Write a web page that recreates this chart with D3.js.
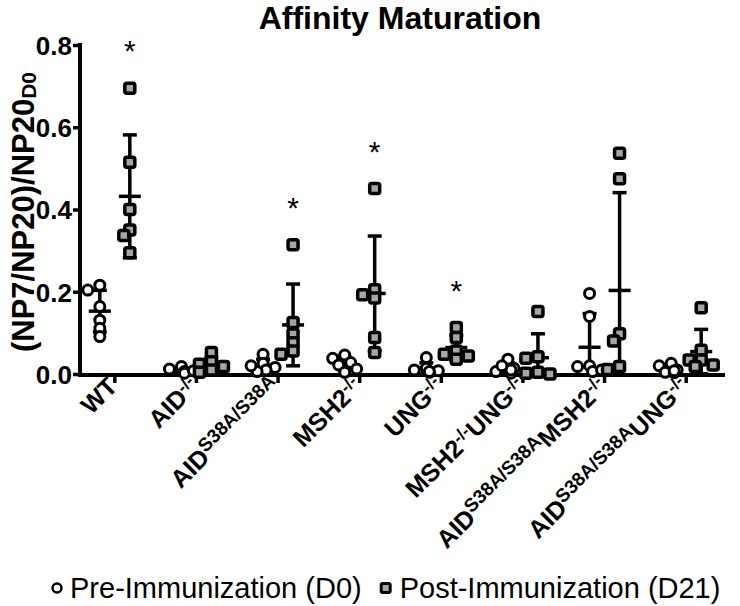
<!DOCTYPE html>
<html><head><meta charset="utf-8">
<script src="https://cdn.jsdelivr.net/npm/d3@7"></script>
<style>
body{margin:0;background:#fff}
svg text{font-family:"Liberation Sans",Arial,Helvetica,sans-serif}
</style>
</head><body>
<svg id="c" width="740" height="606"></svg>
<script>
// ---------- data ----------
const categories = ["WT","AID-/-","AIDS38A/S38A","MSH2-/-","UNG-/-","MSH2-/-UNG-/-","AIDS38A/S38AMSH2-/-","AIDS38A/S38AUNG-/-"];
const labelParts = [
  [["WT",0]],
  [["AID",0],["-/-",1]],
  [["AID",0],["S38A/S38A",1]],
  [["MSH2",0],["-/-",1]],
  [["UNG",0],["-/-",1]],
  [["MSH2",0],["-/-",1],["UNG",0],["-/-",1]],
  [["AID",0],["S38A/S38A",1],["MSH2",0],["-/-",1]],
  [["AID",0],["S38A/S38A",1],["UNG",0],["-/-",1]]
];
const preD0 = [
  [0.216,0.204,0.164,0.131,0.111,0.091],
  [0.018,0.012,0.006,0.004,0.002,0.008],
  [0.048,0.026,0.016,0.010,0.006,0.020],
  [0.046,0.038,0.028,0.022,0.004,0.012],
  [0.040,0.014,0.008,0.004,0.010,0.006],
  [0.036,0.014,0.002,0.010,0.006,0.020],
  [0.196,0.140,0.020,0.018,0.006,0.010],
  [0.020,0.026,0.004,0.010,0.003,0.008]
];
const postD21 = [
  [0.695,0.515,0.400,0.350,0.337,0.295],
  [0.052,0.030,0.024,0.010,0.004,0.018],
  [0.314,0.125,0.097,0.076,0.056,0.048],
  [0.451,0.205,0.193,0.185,0.089,0.052],
  [0.113,0.089,0.056,0.036,0.048,0.044],
  [0.152,0.042,0.038,0.004,0.000,0.002],
  [0.537,0.475,0.098,0.080,0.011,0.018],
  [0.161,0.058,0.034,0.034,0.018,0.022]
];
const significant = [true,false,true,true,true,false,false,false];
const yTicks = [0,0.2,0.4,0.6,0.8];
const title = "Affinity Maturation";
const legendLabels = ["Pre-Immunization (D0)","Post-Immunization (D21)"];

// ---------- layout ----------
const svg = d3.select("#c");
const FONT = '"Liberation Sans",Arial,sans-serif';
const x = d3.scaleBand().domain(categories).range([74, 727]);
const y = d3.scaleLinear().domain([0, 0.8]).range([374, 45]);
const cx = c => x(c) + x.bandwidth()/2;
const preOff = -15, postOff = 15;

// title
svg.append("text").attr("x", 400).attr("y", 29).attr("text-anchor","middle")
  .attr("font-size", 32).attr("font-weight","bold").text(title);

// y axis
const yAxis = svg.append("g").attr("transform","translate(80,0)")
  .call(d3.axisLeft(y).tickValues(yTicks).tickFormat(d3.format(".1f")).tickSize(7).tickSizeOuter(0));
yAxis.select(".domain").attr("stroke","#000").attr("stroke-width",4).attr("d","M0,43V376");
yAxis.selectAll(".tick line").attr("stroke","#000").attr("stroke-width",3.5);
yAxis.selectAll(".tick text").attr("font-size",26).attr("font-weight","bold").attr("fill","#000")
  .attr("font-family",FONT).attr("x",-8).attr("dy","0.36em");

// x axis
const xAxis = svg.append("g").attr("transform","translate(0,375)")
  .call(d3.axisBottom(x).tickSize(8).tickSizeOuter(0).tickFormat(""));
xAxis.select(".domain").attr("stroke","#000").attr("stroke-width",4).attr("d","M78,0H725");
xAxis.selectAll(".tick line").attr("stroke","#000").attr("stroke-width",3.5);

// x labels
categories.forEach((c,i) => {
  const t = svg.append("text")
    .attr("transform", `translate(${cx(c)+4},${388}) rotate(-45)`)
    .attr("text-anchor","end").attr("font-size",25).attr("font-weight","bold");
  labelParts[i].forEach(([s,sup]) => {
    const sp = t.append("tspan").text(s);
    if (sup) sp.attr("font-size", s.length > 3 ? 19 : 17).attr("baseline-shift","8");
  });
});

// y title
const yt = svg.append("text").attr("transform","translate(34,212) rotate(-90)")
  .attr("text-anchor","middle").attr("font-size",31).attr("font-weight","bold");
yt.append("tspan").text("(NP7/NP20)/NP20");
yt.append("tspan").text("D0").attr("font-size",21).attr("baseline-shift","-2");

// swarm offsets (avoid overlap)
function swarm(vals, center) {
  const placed = [];
  const order = vals.map((v,i)=>i).sort((a,b)=>vals[b]-vals[a]);
  const res = new Array(vals.length);
  const step = 6, minD = 8;
  order.forEach(i => {
    const py = y(vals[i]);
    for (const k of [0,-1,1,-2,2]) {
      const px = center + k*step;
      if (placed.every(p => Math.hypot(p[0]-px,p[1]-py) >= minD)) {
        placed.push([px,py]); res[i] = [px,py]; break;
      }
    }
    if (!res[i]) { res[i] = [center + step*0.5, py]; placed.push(res[i]); }
  });
  return res;
}

function errorBar(vals, xc) {
  const m = d3.mean(vals), s = d3.deviation(vals);
  const g = svg.append("g").attr("stroke","#000").attr("stroke-width",3.5);
  const lo = Math.max(0, m - s), hi = m + s;
  g.append("line").attr("x1",xc).attr("x2",xc).attr("y1",y(lo)).attr("y2",y(hi));
  g.append("line").attr("x1",xc-7).attr("x2",xc+7).attr("y1",y(hi)).attr("y2",y(hi));
  if (m - s > 0) g.append("line").attr("x1",xc-7).attr("x2",xc+7).attr("y1",y(lo)).attr("y2",y(lo));
  g.append("line").attr("x1",xc-11).attr("x2",xc+11).attr("y1",y(m)).attr("y2",y(m));
}

categories.forEach((c,i) => {
  const xp = cx(c) + preOff, xq = cx(c) + postOff;
  errorBar(preD0[i], xp);
  errorBar(postD21[i], xq);
  swarm(preD0[i], xp).forEach(([px,py]) => {
    svg.append("circle").attr("cx",px).attr("cy",py).attr("r",5)
      .attr("fill","#fff").attr("stroke","#000").attr("stroke-width",3);
  });
  swarm(postD21[i], xq).forEach(([px,py]) => {
    svg.append("rect").attr("x",px-5).attr("y",py-5).attr("width",10).attr("height",10)
      .attr("rx",2).attr("fill","#a6a6a6").attr("stroke","#000").attr("stroke-width",3.5);
  });
  if (significant[i]) {
    svg.append("text").attr("x",xq).attr("y",y(d3.max(postD21[i]))-27)
      .attr("text-anchor","middle").attr("font-size",30).text("*");
  }
});

// legend
const lg = svg.append("g");
lg.append("circle").attr("cx",57).attr("cy",588).attr("r",4.5)
  .attr("fill","#fff").attr("stroke","#000").attr("stroke-width",2.5);
const t1 = lg.append("text").attr("x",70).attr("y",598).attr("font-size",29).text(legendLabels[0]);
const w1 = t1.node().getComputedTextLength();
const sx = 70 + w1 + 24;
lg.append("rect").attr("x",sx-4.5).attr("y",583.5).attr("width",9).attr("height",9).attr("rx",1.5)
  .attr("fill","#a6a6a6").attr("stroke","#000").attr("stroke-width",3);
lg.append("text").attr("x",sx+14).attr("y",598).attr("font-size",29).text(legendLabels[1]);
</script>
</body></html>
